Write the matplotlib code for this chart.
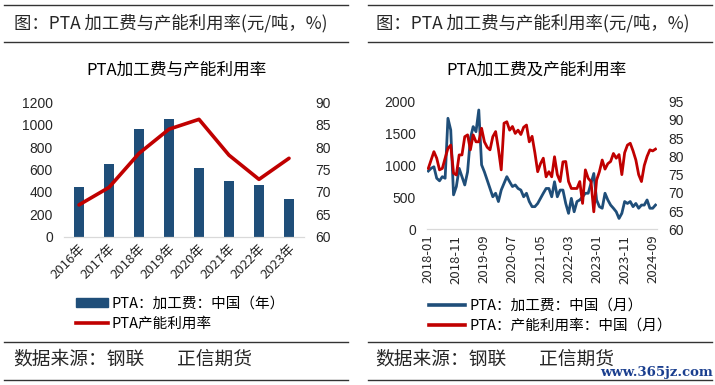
import matplotlib
matplotlib.use("Agg")
import matplotlib.pyplot as plt
from matplotlib.lines import Line2D
from matplotlib.patches import Patch
import numpy as np

plt.rcParams['font.family'] = ['Noto Sans CJK SC', 'DejaVu Sans']

# ---------------- data ----------------
years = ['2016年', '2017年', '2018年', '2019年', '2020年', '2021年', '2022年', '2023年']
fee_annual = [444, 649, 962, 1051, 613, 500, 462, 337]
util_annual = [67.1, 71.0, 78.6, 84.0, 86.2, 78.2, 72.8, 77.5]

months = [f"{y}-{m:02d}" for y in range(2018, 2025) for m in range(1, 13)][:82]
fee_monthly = [913, 955, 980, 800, 760, 825, 800, 1740, 1555, 540,
               670, 955, 825, 695, 900, 1425, 1610, 1530, 1870, 1010,
               900, 770, 640, 510, 565, 435, 615, 720, 825, 745,
               670, 695, 640, 615, 510, 565, 435, 355, 355, 405,
               485, 565, 640, 640, 510, 745, 510, 615, 615, 405,
               250, 485, 275, 435, 460, 510, 565, 565, 720, 875,
               460, 355, 330, 565, 460, 380, 330, 275, 170, 250,
               435, 405, 435, 355, 405, 330, 380, 380, 460, 330,
               330, 380]
util_monthly = [76.7, 79.0, 81.3, 79.5, 76.3, 76.7, 79.5, 82.2, 83.1, 75.4,
                74.9, 80.4, 80.4, 85.4, 85.9, 81.8, 85.9, 84.0, 84.0, 87.7,
                84.0, 82.5, 81.8, 85.4, 86.8, 82.0, 76.3, 89.1, 89.5, 87.2,
                88.2, 86.3, 87.2, 86.0, 88.0, 88.6, 84.0, 85.5, 81.0, 75.8,
                78.0, 79.5, 74.4, 75.8, 74.4, 79.9, 75.0, 73.1, 78.5, 78.6,
                73.1, 71.2, 71.2, 71.2, 73.1, 67.1, 76.3, 74.0, 73.1, 64.8,
                73.5, 75.8, 79.0, 76.5, 78.0, 78.6, 80.8, 79.5, 80.5, 75.0,
                81.0, 83.1, 83.6, 81.5, 79.0, 75.0, 73.1, 77.5, 80.0, 81.8,
                81.5, 82.0]

header = '图：PTA 加工费与产能利用率(元/吨，%)'
title_left = 'PTA加工费与产能利用率'
title_right = 'PTA加工费及产能利用率'
legend_left = ['PTA：加工费：中国（年）', 'PTA产能利用率']
legend_right = ['PTA：加工费：中国（月）', 'PTA：产能利用率：中国（月）']
source_a = '数据来源：钢联'
source_b = '正信期货'

BLUE = '#1F4E79'
RED = '#C00000'
GRID = '#D9D9D9'
TXT = '#262626'
NUM = ['Liberation Sans', 'DejaVu Sans']

W, H = 715, 385
fig = plt.figure(figsize=(W / 100, H / 100), dpi=100)


def fx(px):
    return px / W


def fy(py):
    return 1 - py / H


# separator lines and text
for x0, x1 in [(4, 348), (368, 712)]:
    for yy in [5, 42, 342, 380]:
        fig.add_artist(Line2D([fx(x0), fx(x1)], [fy(yy), fy(yy)], color='#333333', lw=1.0))

for off in (0, 362):
    fig.text(fx(14 + off), fy(23), header, fontsize=12.5, color=TXT, va='center', ha='left')
    fig.text(fx(13 + off), fy(359), source_a, fontsize=13.5, color=TXT, va='center', ha='left')
    fig.text(fx(177 + off), fy(359), source_b, fontsize=13.5, color=TXT, va='center', ha='left')
fig.text(fx(176), fy(70), title_left, fontsize=12, color='black', va='center', ha='center')
fig.text(fx(536), fy(70), title_right, fontsize=12, color='black', va='center', ha='center')
fig.text(fx(713), fy(372.5), 'www.365jz.com', fontsize=9.5, color='#1B3F8F',
         va='center', ha='right', family='DejaVu Serif', fontweight='bold')

# ---------------- left chart ----------------
axL = fig.add_axes([fx(64), fy(236.7), fx(304) - fx(64), fy(102.3) - fy(236.7)])
x = np.arange(len(years))
axL.bar(x, fee_annual, width=0.34, color=BLUE, zorder=2)
axL.set_xlim(-0.5, len(years) - 0.5)
axL.set_ylim(0, 1200)
axL.set_yticks(range(0, 1201, 200))
axL.set_xticks(x)
axL.set_xticklabels(years, rotation=45, ha='right', rotation_mode='anchor', fontsize=9.5, color=TXT)
axR = axL.twinx()
axR.plot(x, util_annual, color=RED, lw=2.6, solid_capstyle='round', zorder=3)
axR.set_ylim(60, 90)
axR.set_yticks(range(60, 91, 5))

for a in (axL, axR):
    for s in ['top', 'left', 'right']:
        a.spines[s].set_visible(False)
    a.spines['bottom'].set_color(GRID)
    a.tick_params(length=0)
axL.tick_params(axis='y', labelsize=10, labelcolor=TXT, pad=8)
axR.tick_params(axis='y', labelsize=10, labelcolor=TXT, pad=8)
axL.tick_params(axis='x', pad=4)
for lab in axL.get_yticklabels() + axR.get_yticklabels():
    lab.set_family(NUM)

handles = [Patch(color=BLUE), Line2D([], [], color=RED, lw=2.6)]
fig.legend(handles, legend_left, loc='upper left', bbox_to_anchor=(fx(76), fy(297)),
           frameon=False, fontsize=10.5, handlelength=2.2, handleheight=0.6,
           handletextpad=0.25, labelspacing=0.4, borderaxespad=0, borderpad=0)

# ---------------- right chart ----------------
bxL = fig.add_axes([fx(426.9), fy(229.3), fx(656.9) - fx(426.9), fy(101.7) - fy(229.3)])
xm = np.arange(len(months))
bxL.plot(xm, fee_monthly, color=BLUE, lw=2.0, zorder=2)
bxL.set_xlim(-0.5, len(months) - 0.5)
bxL.set_ylim(0, 2000)
bxL.set_yticks(range(0, 2001, 500))
tick_idx = list(range(0, len(months), 10))
bxL.set_xticks(tick_idx)
bxL.set_xticklabels([months[i] for i in tick_idx], rotation=90, fontsize=9.5, color=TXT)
bxR = bxL.twinx()
bxR.plot(xm, util_monthly, color=RED, lw=2.0, zorder=3)
bxR.set_ylim(60, 95)
bxR.set_yticks(range(60, 96, 5))
for a in (bxL, bxR):
    for s in ['top', 'left', 'right']:
        a.spines[s].set_visible(False)
    a.spines['bottom'].set_color(GRID)
    a.tick_params(length=0)
bxL.tick_params(axis='y', labelsize=10, labelcolor=TXT, pad=8)
bxR.tick_params(axis='y', labelsize=10, labelcolor=TXT, pad=8)
bxL.tick_params(axis='x', pad=4)
for lab in bxL.get_yticklabels() + bxR.get_yticklabels():
    lab.set_family(NUM)

handles_r = [Line2D([], [], color=BLUE, lw=2.6), Line2D([], [], color=RED, lw=2.6)]
fig.legend(handles_r, legend_right, loc='upper left', bbox_to_anchor=(fx(429), fy(299)),
           frameon=False, fontsize=10.5, handlelength=2.5, handletextpad=0.25,
           labelspacing=0.4, borderaxespad=0, borderpad=0)

fig.savefig('out.png', dpi=100)
